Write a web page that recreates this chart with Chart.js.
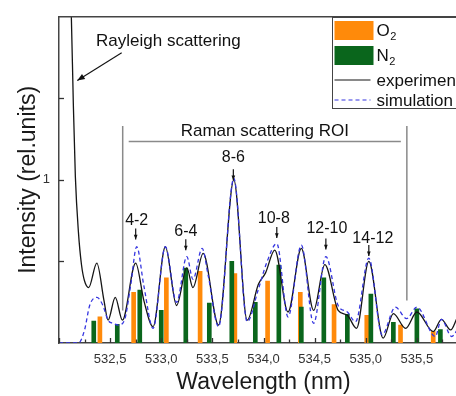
<!DOCTYPE html>
<html lang="en">
  <head>
    <meta charset="UTF-8" />
    <title>Raman spectrum</title>
    <style>
      html, body {
        margin: 0;
        padding: 0;
        background: #fff;
        overflow: hidden;
      }
      canvas {
        display: block;
      }
    </style>
  </head>
  <body>
    <canvas id="spectrum" width="476" height="396"></canvas>

    <script src="https://cdn.jsdelivr.net/npm/chart.js@4.4.1/dist/chart.umd.min.js"></script>

    <script>
      // O2 / N2 rotational lines (nm, rel. intensity)
      const o2Wavelength = [532.40, 532.73, 533.05, 533.38, 533.72, 534.04, 534.36, 534.69, 535.01, 535.34, 535.66];
      const o2Intensity = [0.16, 0.31, 0.40, 0.44, 0.425, 0.38, 0.31, 0.236, 0.17, 0.11, 0.07];

      const n2Wavelength = [532.34, 532.57, 532.79, 533.00, 533.24, 533.47, 533.69, 533.92, 534.15, 534.37, 534.59, 534.82, 535.05, 535.27, 535.50, 535.73];
      const n2Intensity = [0.135, 0.115, 0.325, 0.20, 0.46, 0.245, 0.50, 0.25, 0.477, 0.22, 0.40, 0.176, 0.30, 0.127, 0.21, 0.083];

      // measured spectrum
      const expWavelength = [532.10, 532.12, 532.14, 532.16, 532.19, 532.22, 532.25, 532.29, 532.37, 532.44, 532.48, 532.55, 532.62, 532.75, 532.83, 532.92, 533.04, 533.15, 533.25, 533.31, 533.41, 533.56, 533.71, 533.84, 533.95, 534.02, 534.11, 534.24, 534.37, 534.49, 534.60, 534.73, 534.82, 534.91, 535.03, 535.17, 535.27, 535.39, 535.50, 535.66, 535.74, 535.83, 535.90, 535.97];
      const expIntensity = [2.30, 2.02, 1.47, 1.02, 0.68, 0.48, 0.38, 0.34, 0.49, 0.26, 0.14, 0.28, 0.14, 0.49, 0.26, 0.10, 0.59, 0.23, 0.46, 0.34, 0.55, 0.11, 1.00, 0.14, 0.36, 0.43, 0.57, 0.19, 0.58, 0.20, 0.48, 0.20, 0.17, 0.09, 0.50, 0.03, 0.18, 0.09, 0.19, 0.07, 0.145, 0.08, 0.16, 0.20];

      // simulated spectrum
      const simWavelength = [532.00, 532.19, 532.25, 532.30, 532.37, 532.43, 532.48, 532.53, 532.58, 532.64, 532.70, 532.76, 532.83, 532.92, 533.04, 533.15, 533.25, 533.31, 533.40, 533.46, 533.56, 533.71, 533.84, 533.95, 534.03, 534.13, 534.24, 534.37, 534.49, 534.61, 534.73, 534.82, 534.90, 535.03, 535.16, 535.29, 535.40, 535.50, 535.68, 535.74, 535.84, 535.92];
      const simIntensity = [0, 0, 0.08, 0.23, 0.28, 0.23, 0.14, 0.12, 0.11, 0.14, 0.35, 0.59, 0.35, 0.09, 0.59, 0.25, 0.53, 0.39, 0.58, 0.41, 0.10, 1.01, 0.13, 0.33, 0.49, 0.61, 0.16, 0.60, 0.12, 0.53, 0.23, 0.19, 0.13, 0.52, 0.05, 0.22, 0.15, 0.22, 0.04, 0.145, 0.04, 0.11];

      // transition labels and where their arrows point
      const peakLabels = ["4-2", "6-4", "8-6", "10-8", "12-10", "14-12"];
      const peakWavelength = [532.75, 533.24, 533.705, 534.13, 534.61, 535.03];
      const peakTip = [0.635, 0.568, 0.998, 0.644, 0.574, 0.533];
      const peakLabelShift = [1, 0, 0, -3, 1, 4];
      const peakLabelGap = [14, 14, 18, 15, 16, 13];

      // region of interest bracket
      const roiStart = 532.623;
      const roiEnd = 535.402;

      const xTicks = [532.5, 533.0, 533.5, 534.0, 534.5, 535.0, 535.5];

      const FONT = "'Liberation Sans', Arial, sans-serif";
      Chart.defaults.font.family = FONT;
      Chart.defaults.color = "#222";

      const toPoints = (xs, ys) => xs.map((x, i) => ({ x: x, y: ys[i] }));

      // inward tick marks on the bottom and left axes
      const insideTicks = {
        id: "insideTicks",
        afterDraw(chart) {
          const { ctx, chartArea, scales } = chart;
          ctx.save();
          ctx.strokeStyle = "#333";
          ctx.lineWidth = 1.3;
          for (let v = 532; v <= 536.001; v += 0.25) {
            const px = Math.round(scales.x.getPixelForValue(v)) + 0.5;
            const major = Math.abs(v * 2 - Math.round(v * 2)) < 1e-6;
            ctx.beginPath();
            ctx.moveTo(px, chartArea.bottom);
            ctx.lineTo(px, chartArea.bottom - (major ? 5 : 3.5));
            ctx.stroke();
          }
          for (let v = 0.5; v < 2; v += 0.5) {
            const py = Math.round(scales.y.getPixelForValue(v)) + 0.5;
            ctx.beginPath();
            ctx.moveTo(chartArea.left, py);
            ctx.lineTo(chartArea.left + 5, py);
            ctx.stroke();
          }
          // top and right frame
          ctx.strokeStyle = "#444";
          ctx.lineWidth = 1.5;
          ctx.beginPath();
          ctx.moveTo(chartArea.left, chartArea.top);
          ctx.lineTo(chartArea.right, chartArea.top);
          ctx.lineTo(chartArea.right, chartArea.bottom);
          ctx.stroke();
          ctx.restore();
        },
      };

      function arrow(ctx, x1, y1, x2, y2, head) {
        ctx.beginPath();
        ctx.moveTo(x1, y1);
        ctx.lineTo(x2, y2);
        ctx.stroke();
        const a = Math.atan2(y2 - y1, x2 - x1);
        ctx.beginPath();
        ctx.moveTo(x2, y2);
        ctx.lineTo(x2 - head * Math.cos(a - 0.38), y2 - head * Math.sin(a - 0.38));
        ctx.lineTo(x2 - head * Math.cos(a + 0.38), y2 - head * Math.sin(a + 0.38));
        ctx.closePath();
        ctx.fill();
      }

      // text labels, arrows and the ROI bracket
      const annotations = {
        id: "annotations",
        afterDatasetsDraw(chart) {
          const { ctx, scales } = chart;
          const X = (v) => scales.x.getPixelForValue(v);
          const Y = (v) => scales.y.getPixelForValue(v);
          ctx.save();
          ctx.fillStyle = "#111";
          ctx.strokeStyle = "#111";
          ctx.lineWidth = 1.1;

          ctx.font = "17px " + FONT;
          ctx.textAlign = "left";
          ctx.textBaseline = "alphabetic";
          ctx.fillText("Rayleigh scattering", X(532.362), Y(1.824));
          arrow(ctx, X(532.613), Y(1.78), X(532.179), Y(1.61), 8);

          // ROI bracket
          ctx.strokeStyle = "#8a8a8a";
          ctx.lineWidth = 1.5;
          ctx.beginPath();
          ctx.moveTo(X(roiStart), Y(1.33));
          ctx.lineTo(X(roiStart), Y(0.2));
          ctx.moveTo(X(roiEnd), Y(1.33));
          ctx.lineTo(X(roiEnd), Y(0.26));
          ctx.moveTo(X(roiStart) + 6, Y(1.235));
          ctx.lineTo(X(roiEnd) - 6, Y(1.235));
          ctx.stroke();
          ctx.textAlign = "center";
          ctx.textBaseline = "middle";
          ctx.fillText("Raman scattering ROI", (X(roiStart) + X(roiEnd)) / 2, Y(1.30));

          // transition labels
          ctx.font = "16px " + FONT;
          ctx.textBaseline = "alphabetic";
          ctx.strokeStyle = "#111";
          ctx.lineWidth = 1.2;
          peakLabels.forEach((label, i) => {
            const px = X(peakWavelength[i]);
            const tip = Y(peakTip[i]);
            ctx.fillText(label, px + peakLabelShift[i], tip - peakLabelGap[i]);
            arrow(ctx, px, tip - 11, px, tip, 5);
          });
          ctx.restore();
        },
      };

      // framed legend in the upper right corner
      const boxLegend = {
        id: "boxLegend",
        afterDraw(chart) {
          const { ctx } = chart;
          const ds = chart.data.datasets;
          const left = 332.5;
          const top = 17.5;
          ctx.save();
          ctx.fillStyle = "#fff";
          ctx.fillRect(left, top, 160, 91);
          ctx.strokeStyle = "#444";
          ctx.lineWidth = 1;
          ctx.strokeRect(left, top, 160, 91);

          const rows = [31, 56, 80, 100];
          ctx.font = "17px " + FONT;
          ctx.textBaseline = "middle";
          ctx.textAlign = "left";
          ds.forEach((d, i) => {
            const y = rows[i];
            if (d.type === "bar") {
              ctx.fillStyle = d.backgroundColor;
              ctx.fillRect(left + 2, y - 10, 39, 19);
            } else {
              ctx.strokeStyle = d.borderColor;
              ctx.lineWidth = 1.2;
              ctx.setLineDash(d.borderDash || []);
              ctx.beginPath();
              ctx.moveTo(left + 2, y);
              ctx.lineTo(left + 38, y);
              ctx.stroke();
              ctx.setLineDash([]);
            }
            ctx.fillStyle = "#111";
            const name = d.label;
            const sub = name.match(/^(\w)(\d)$/);
            if (sub) {
              ctx.fillText(sub[1], left + 44, y);
              const w = ctx.measureText(sub[1]).width;
              ctx.font = "11px " + FONT;
              ctx.fillText(sub[2], left + 44 + w + 0.5, y + 6);
              ctx.font = "17px " + FONT;
            } else {
              ctx.fillText(name, left + 44, y + 1);
            }
          });
          ctx.restore();
        },
      };

      const ctx = document.getElementById("spectrum").getContext("2d");
      const chart = new Chart(ctx, {
        type: "bar",
        data: {
          datasets: [
            {
              type: "bar",
              label: "O2",
              data: toPoints(o2Wavelength, o2Intensity),
              backgroundColor: "#ff8a0a",
              barThickness: 4,
              grouped: false,
              order: 3,
            },
            {
              type: "bar",
              label: "N2",
              data: toPoints(n2Wavelength, n2Intensity),
              backgroundColor: "#0a661c",
              barThickness: 4,
              grouped: false,
              order: 2,
            },
            {
              type: "line",
              label: "experiment",
              data: toPoints(expWavelength, expIntensity),
              borderColor: "#151515",
              borderWidth: 1.3,
              pointRadius: 0,
              cubicInterpolationMode: "monotone",
              fill: false,
              order: 1,
            },
            {
              type: "line",
              label: "simulation",
              data: toPoints(simWavelength, simIntensity),
              borderColor: "#3535e0",
              borderWidth: 1.3,
              borderDash: [4, 3],
              pointRadius: 0,
              cubicInterpolationMode: "monotone",
              fill: false,
              order: 0,
            },
          ],
        },
        options: {
          responsive: false,
          animation: false,
          events: [],
          layout: { padding: { top: 14, right: 8, left: 0, bottom: 0 } },
          plugins: {
            legend: { display: false },
            tooltip: { enabled: false },
          },
          scales: {
            x: {
              type: "linear",
              min: 532,
              max: 536,
              offset: false,
              grid: { display: false, drawTicks: false },
              border: { display: true, color: "#444", width: 1.5 },
              afterBuildTicks: (scale) => {
                scale.ticks = xTicks.map((v) => ({ value: v }));
              },
              ticks: {
                autoSkip: false,
                maxRotation: 0,
                padding: 9,
                color: "#333",
                font: { size: 13 },
                callback: (v) => v.toFixed(1).replace(".", ","),
              },
              title: {
                display: true,
                text: "Wavelength (nm)",
                color: "#1a1a1a",
                font: { size: 23 },
                padding: { top: 0, bottom: 0 },
              },
              afterFit: (scale) => {
                scale.height = 53;
              },
            },
            y: {
              min: 0,
              max: 2,
              grid: { display: false, drawTicks: false },
              border: { display: true, color: "#444", width: 1.5 },
              afterBuildTicks: (scale) => {
                scale.ticks = [{ value: 1 }];
              },
              ticks: {
                padding: 9,
                color: "#333",
                font: { size: 13 },
                callback: (v) => String(v),
              },
              title: {
                display: true,
                text: "Intensity (rel.units)",
                color: "#1a1a1a",
                font: { size: 23 },
                padding: { top: 15, bottom: 0 },
              },
              afterFit: (scale) => {
                scale.width = 59;
              },
            },
          },
        },
        plugins: [insideTicks, annotations, boxLegend],
      });
    </script>
  </body>
</html>
